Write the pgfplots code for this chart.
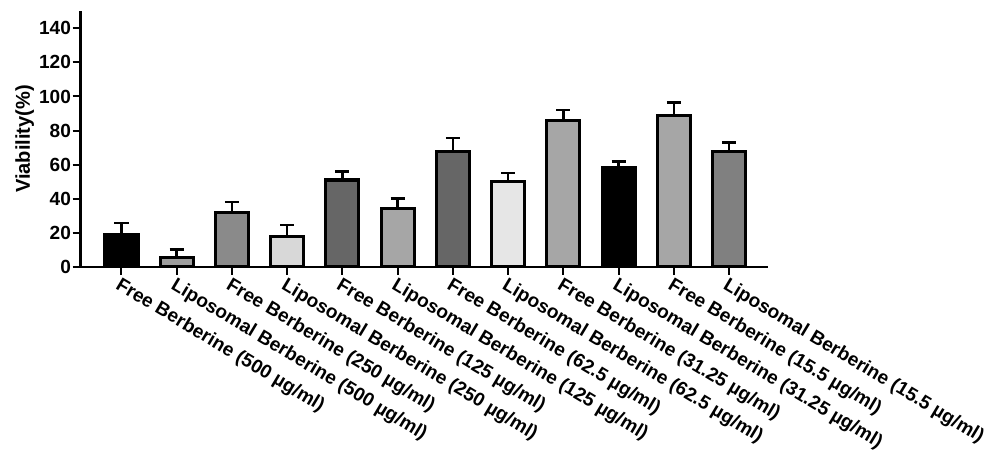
\documentclass[border=0pt]{standalone}
\usepackage{fontspec}
\setmainfont{Liberation Sans}
\usepackage{pgfplots}
\pgfplotsset{compat=1.18}
\definecolor{gA}{HTML}{000000}
\definecolor{gB}{HTML}{9E9E9E}
\definecolor{gC}{HTML}{8A8A8A}
\definecolor{gD}{HTML}{D8D8D8}
\definecolor{gE}{HTML}{666666}
\definecolor{gF}{HTML}{A6A6A6}
\definecolor{gG}{HTML}{E6E6E6}
\definecolor{gH}{HTML}{808080}
\begin{document}
\begin{tikzpicture}
\begin{axis}[
  scale only axis, width=686pt, height=255pt,
  xmin=-0.74, xmax=11.71, ymin=0, ymax=150,
  axis x line=bottom, axis y line=left,
  axis line style={line width=2.5pt, -},
  ytick={0,20,...,140},
  xtick={0,...,11},
  xticklabels={Free Berberine (500 µg/ml), Liposomal Berberine (500 µg/ml), Free Berberine (250 µg/ml), Liposomal Berberine (250 µg/ml), Free Berberine (125 µg/ml), Liposomal Berberine (125 µg/ml), Free Berberine (62.5 µg/ml), Liposomal Berberine (62.5 µg/ml), Free Berberine (31.25 µg/ml), Liposomal Berberine (31.25 µg/ml), Free Berberine (15.5 µg/ml), Liposomal Berberine (15.5 µg/ml)},
  tick style={line width=2pt, black},
  major tick length=8pt,
  tick align=outside,
  /pgf/number format/assume math mode=true,
  ticklabel style={font=\bfseries\fontsize{19}{22}\selectfont},
  yticklabel style={inner sep=1.5pt},
  xticklabel style={rotate=-31, anchor=north west, inner sep=1pt, font=\bfseries\fontsize{19}{22}\selectfont},
  ylabel={Viability(\%)},
  ylabel style={font=\bfseries\fontsize{20}{23}\selectfont},
  ybar, bar width=33pt, bar shift=0pt,
  every axis plot/.append style={draw=black, line width=3pt},
  error bars/y dir=plus, error bars/y explicit,
  error bars/error bar style={line width=2.5pt, black},
  error bars/error mark options={line width=2.5pt, black, mark size=7pt, rotate=90},
]
\addplot[fill=gA] coordinates {(0,19) +- (0,6.8)};
\addplot[fill=gB] coordinates {(1,5.7) +- (0,4.5)};
\addplot[fill=gC] coordinates {(2,32) +- (0,6)};
\addplot[fill=gD] coordinates {(3,18) +- (0,6.7)};
\addplot[fill=gE] coordinates {(4,51) +- (0,5)};
\addplot[fill=gF] coordinates {(5,34) +- (0,6)};
\addplot[fill=gE] coordinates {(6,68) +- (0,7.5)};
\addplot[fill=gG] coordinates {(7,50) +- (0,5)};
\addplot[fill=gF] coordinates {(8,86) +- (0,6)};
\addplot[fill=gA] coordinates {(9,58.5) +- (0,3.5)};
\addplot[fill=gF] coordinates {(10,89) +- (0,7.5)};
\addplot[fill=gH] coordinates {(11,67.5) +- (0,5.5)};
\end{axis}
\path (current bounding box.south west) ++(-12pt,-8pt) (current bounding box.north east) ++(6pt,10pt);
\end{tikzpicture}
\end{document}
